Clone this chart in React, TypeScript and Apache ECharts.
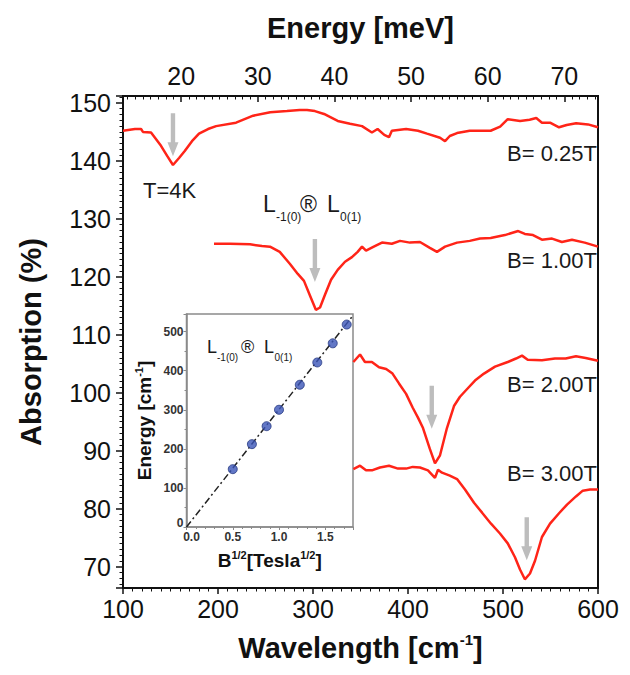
import React, { useEffect, useRef } from 'react';
import * as echarts from 'echarts';

// ---------- data ----------
const CM_PER_MEV = 8.0655;
const wavenumberMin = 100;
const wavenumberMax = 600;
const absorptionMin = 66.3;
const absorptionMax = 151.2;

const w025 = [100, 112.6, 119, 121, 129.5, 140, 146.3, 152.6, 159, 165, 172.6, 180, 189.5, 198, 219, 237, 255, 272.6, 286, 293.7, 302, 311.6, 326, 339, 351.6, 362, 368, 375, 380, 383, 398, 410.5, 420, 433.7, 439, 444, 451.6, 465, 487, 497, 505, 518, 528, 535, 541, 549.5, 559, 567, 577, 589.5, 600];
const a025 = [145.2, 145.5, 145.5, 145.0, 144.9, 142.6, 140.9, 139.3, 140.5, 141.7, 143.4, 144.7, 145.5, 146.0, 146.6, 147.8, 148.4, 148.6, 148.8, 148.8, 148.6, 148.1, 146.9, 146.4, 146.0, 144.9, 145.5, 144.5, 144.1, 145.2, 145.5, 145.2, 144.7, 144.0, 143.4, 144.3, 144.8, 145.2, 145.2, 145.9, 147.2, 146.9, 147.1, 147.4, 146.6, 146.6, 145.8, 146.2, 146.5, 146.3, 145.8];

const w100 = [195.8, 212.6, 233.7, 246.3, 254.7, 265, 275.8, 284, 290.5, 297, 303, 307.4, 312.6, 319, 326, 333.7, 341, 347, 351.6, 355.8, 364, 372.6, 383, 391.6, 402, 412.6, 423, 430.5, 439, 451.6, 465, 475.8, 487, 502, 516, 523, 531.6, 541, 551.6, 562, 572.6, 586, 600];
const a100 = [125.7, 125.7, 125.6, 125.3, 125.2, 124.3, 122.2, 120.5, 119.3, 116.7, 114.3, 114.7, 116.9, 119.5, 121.2, 122.6, 123.4, 124.3, 125.2, 124.5, 125.2, 125.9, 125.7, 126.2, 125.9, 126.0, 125.0, 124.3, 125.2, 125.9, 126.2, 126.6, 126.7, 127.2, 127.9, 127.4, 127.2, 126.4, 126.6, 126.0, 126.4, 125.9, 125.2];

const w200 = [342.5, 349.5, 354.7, 362, 369.5, 377, 383.7, 390.5, 398, 405, 410.5, 415.8, 423, 428.4, 433.7, 441, 448.4, 454.7, 462, 470.5, 480, 491.6, 505, 513.7, 520, 526, 541, 554.7, 566, 576.8, 587, 600];
const a200 = [105.3, 106.6, 105.3, 105.3, 104.4, 104.1, 103.3, 101.6, 99.8, 97.4, 95.7, 93.9, 90.3, 87.8, 89.2, 93.9, 97.7, 99.3, 100.6, 102.1, 103.3, 104.5, 105.3, 105.9, 106.4, 105.7, 105.6, 105.9, 105.9, 106.3, 106.0, 105.5];

const w300 = [342.5, 349.5, 355.8, 362, 370.5, 380, 389.5, 398, 405, 412.6, 421, 428.4, 431.6, 435.8, 444, 451.6, 460, 469.5, 478, 487.4, 496.8, 505, 512.6, 517.9, 523, 528.4, 533.7, 541, 549.5, 559, 567.4, 576.8, 584, 591.6, 600];
const a300 = [86.8, 87.4, 86.6, 86.6, 87.1, 87.4, 86.9, 86.9, 87.2, 87.1, 86.6, 85.3, 86.7, 86.2, 85.7, 85.1, 83.3, 81.0, 79.3, 77.4, 75.7, 74.0, 71.6, 69.5, 67.8, 68.8, 71.0, 75.1, 77.4, 79.2, 80.7, 82.1, 83.1, 83.3, 83.3];

const fieldLabels = ['B= 0.25T', 'B= 1.00T', 'B= 2.00T', 'B= 3.00T'];
// arrow marker centres (wavenumber, absorption)
const arrowW = [152.6, 302, 425, 525];
const arrowA = [144.5, 122.8, 97.5, 74.8];

// inset data
const insetSqrtB = [0.5, 0.707, 0.866, 1.0, 1.225, 1.414, 1.581, 1.732];
const insetEnergy = [148, 212, 258, 300, 364, 421, 470, 518];
const fitX = [0, 1.8];
const fitY = [0, 541];
const insetXMax = 1.8;
const insetYMax = 545;

// ---------- styles ----------
const FONT = '"Liberation Sans", Arial, Helvetica, sans-serif';
const RED = '#ff2418';
const INK = '#111';
const GREY = '#8a8a8a';
const ARROW = 'path://M3,0 L7,0 L7,29 L10,29 L5,43 L0,29 L3,29 Z';

const zip = (xs: number[], ys: number[]) => xs.map((x, i) => [x, ys[i]]);

const curves = [
  { w: w025, a: a025 },
  { w: w100, a: a100 },
  { w: w200, a: a200 },
  { w: w300, a: a300 },
];

const labelY = [153, 260, 384, 473.5];

function buildOption() {
  const curveSeries = curves.map((c, i) => ({
    type: 'line',
    xAxisIndex: 0,
    yAxisIndex: 0,
    data: zip(c.w, c.a),
    showSymbol: false,
    symbol: 'none',
    lineStyle: { color: RED, width: 2.5 },
    z: 3,
    silent: true,
    markPoint: {
      symbol: ARROW,
      symbolSize: [11, 43],
      silent: true,
      itemStyle: { color: '#bdbdbd' },
      label: { show: false },
      data: [{ coord: [arrowW[i], arrowA[i]] }],
    },
  }));

  const txt = (text: string, x: number, y: number, size: number, align = 'left', weight = 'normal') => ({
    type: 'text',
    x,
    y,
    silent: true,
    style: {
      text,
      fill: '#1a1a1a',
      font: `${weight} ${size}px ${FONT}`,
      align,
      verticalAlign: 'middle',
    },
  });

  const graphics: any[] = [
    ...fieldLabels.map((t, i) => txt(t, 597, labelY[i], 22, 'right')),
    txt('T=4K', 143, 190, 22),
    // main transition label
    txt('L', 263, 203.5, 23),
    txt('-1(0)', 276, 217, 12),
    txt('®', 300, 203.5, 23),
    txt('L', 327, 203.5, 23),
    txt('0(1)', 340, 217, 12),
    // inset transition label
    txt('L', 207, 346.5, 18),
    txt('-1(0)', 217, 357, 10),
    txt('®', 241, 346.5, 18),
    txt('L', 264, 346.5, 18),
    txt('0(1)', 274.5, 357, 10),
  ];

  const tickLabel = { fontSize: 25, color: INK, fontFamily: FONT };
  const titleRich = {
    t: { fontSize: 29, fontWeight: 'bold', color: INK, fontFamily: FONT, lineHeight: 32 },
    s: { fontSize: 15, fontWeight: 'bold', color: INK, fontFamily: FONT, lineHeight: 18, verticalAlign: 'top' },
  };
  const insetRich = {
    t: { fontSize: 19, fontWeight: 'bold', color: INK, fontFamily: FONT, lineHeight: 22 },
    s: { fontSize: 11, fontWeight: 'bold', color: INK, fontFamily: FONT, lineHeight: 12, verticalAlign: 'top' },
  };
  const insetLabel = { fontSize: 12, fontWeight: 'bold', color: '#333', fontFamily: FONT };
  const onlyMultiples = (step: number, digits = 0) => (v: number) =>
    Math.abs(v / step - Math.round(v / step)) < 1e-6 ? v.toFixed(digits) : '';
  // the two zero labels of the inset sit side by side at its corner
  const insetX = (v: number) => {
    const s = onlyMultiples(0.5, 1)(v);
    return v === 0 ? `{z|${s}}` : s;
  };
  const insetY = (v: number) => {
    const s = onlyMultiples(100)(v);
    return v === 0 ? `{z|${s}}` : s;
  };

  return {
    animation: false,
    backgroundColor: '#fff',
    textStyle: { fontFamily: FONT },
    grid: [
      { left: 123, right: 32, top: 96, bottom: 87, show: true, borderColor: INK, borderWidth: 2, backgroundColor: 'transparent' },
      { left: 186.5, top: 314, width: 166.5, height: 213, show: true, borderColor: GREY, borderWidth: 1.5, backgroundColor: '#fff' },
    ],
    xAxis: [
      {
        type: 'value', gridIndex: 0, position: 'bottom',
        min: wavenumberMin, max: wavenumberMax, interval: 100,
        axisLine: { show: true, lineStyle: { color: INK, width: 2 } },
        axisTick: { show: true, inside: false, length: 6, lineStyle: { color: INK, width: 1.5 } },
        minorTick: { show: true, splitNumber: 10, length: 3.5, lineStyle: { color: INK, width: 1 } },
        splitLine: { show: false },
        axisLabel: { ...tickLabel, margin: 8 },
        name: '{t|Wavelength [cm}{s|-1}{t|]}',
        nameLocation: 'middle', nameGap: 44,
        nameTextStyle: { rich: titleRich },
      },
      {
        type: 'value', gridIndex: 0, position: 'top',
        min: wavenumberMin / CM_PER_MEV, max: wavenumberMax / CM_PER_MEV, splitNumber: 6,
        axisLine: { show: true, lineStyle: { color: INK, width: 2 } },
        axisTick: { show: true, inside: true, length: 6, lineStyle: { color: INK, width: 1.5 } },
        minorTick: { show: true, splitNumber: 10, length: 3.5, lineStyle: { color: INK, width: 1 } },
        splitLine: { show: false },
        axisLabel: { ...tickLabel, margin: 8, formatter: onlyMultiples(10) },
        name: 'Energy [meV]',
        nameLocation: 'middle', nameGap: 54,
        nameTextStyle: { fontSize: 29, fontWeight: 'bold', color: INK, fontFamily: FONT },
      },
      {
        type: 'value', gridIndex: 1, min: 0, max: insetXMax, interval: 0.5,
        axisLine: { show: true, lineStyle: { color: GREY, width: 1.5 } },
        axisTick: { show: true, inside: false, length: 3, lineStyle: { color: GREY } },
        minorTick: { show: true, splitNumber: 5, length: 2, lineStyle: { color: GREY } },
        splitLine: { show: false },
        axisLabel: {
          ...insetLabel, margin: 4, interval: 0, hideOverlap: false, formatter: insetX,
          rich: { z: { ...insetLabel, padding: [0, 0, 0, 10] } },
        },
        name: '{t|B}{s|1/2}{t|[Tesla}{s|1/2}{t|]}',
        nameLocation: 'middle', nameGap: 22,
        nameTextStyle: { rich: insetRich },
      },
    ],
    yAxis: [
      {
        type: 'value', gridIndex: 0,
        min: absorptionMin, max: absorptionMax, splitNumber: 8,
        axisLine: { show: true, lineStyle: { color: INK, width: 2 } },
        axisTick: { show: true, inside: false, length: 7, lineStyle: { color: INK, width: 1.5 } },
        minorTick: { show: true, splitNumber: 10, length: 3.5, lineStyle: { color: INK, width: 1 } },
        splitLine: { show: false },
        axisLabel: { ...tickLabel, margin: 12, formatter: onlyMultiples(10) },
        name: 'Absorption (%)',
        nameLocation: 'middle', nameGap: 78,
        nameTextStyle: { fontSize: 29, fontWeight: 'bold', color: INK, fontFamily: FONT },
      },
      {
        type: 'value', gridIndex: 1, min: 0, max: insetYMax, interval: 100,
        axisLine: { show: true, lineStyle: { color: GREY, width: 1.5 } },
        axisTick: { show: true, inside: false, length: 3, lineStyle: { color: GREY } },
        minorTick: { show: true, splitNumber: 2, length: 2, lineStyle: { color: GREY } },
        splitLine: { show: false },
        axisLabel: {
          ...insetLabel, margin: 3, formatter: insetY,
          rich: { z: { ...insetLabel, padding: [0, 0, 8, 0] } },
        },
        name: '{t|Energy [cm}{s|-1}{t|]}',
        nameLocation: 'middle', nameGap: 31,
        nameTextStyle: { rich: insetRich },
      },
    ],
    series: [
      ...curveSeries,
      {
        type: 'line', xAxisIndex: 2, yAxisIndex: 1,
        data: zip(fitX, fitY), symbol: 'none', silent: true,
        lineStyle: { color: '#222', width: 1.5, type: [7, 3, 2, 3] },
        z: 4,
      },
      {
        type: 'scatter', xAxisIndex: 2, yAxisIndex: 1,
        data: zip(insetSqrtB, insetEnergy), symbolSize: 9, silent: true,
        itemStyle: { color: '#3b55b8', borderColor: '#24377f', borderWidth: 1 },
        z: 5,
      },
    ],
    graphic: graphics,
  };
}

export default function App() {
  const ref = useRef<HTMLDivElement>(null);
  useEffect(() => {
    if (!ref.current) return;
    const chart = echarts.init(ref.current, null, { renderer: 'svg' });
    chart.setOption(buildOption() as any);
    return () => chart.dispose();
  }, []);
  return (
    <div
      ref={ref}
      style={{ position: 'absolute', left: 0, top: 0, width: 630, height: 675, background: '#fff' }}
    />
  );
}
